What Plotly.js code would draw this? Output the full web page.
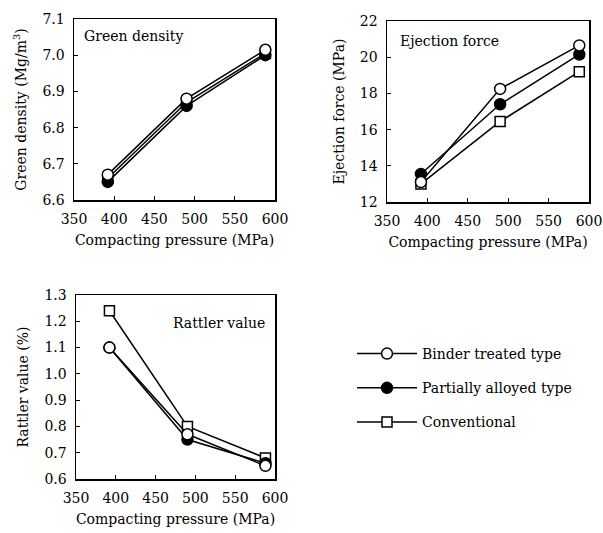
<!DOCTYPE html>
<html><head><meta charset="utf-8">
<script src="https://cdn.plot.ly/plotly-3.0.1.min.js"></script>
<style>html,body{margin:0;padding:0;background:#fff}#chart{width:603px;height:533px}</style>
</head><body><div id="chart"></div>
<script>
const pressure = [392, 490, 588];
const seriesNames = ["Binder treated type", "Partially alloyed type", "Conventional"];
const greenBinder = [6.67, 6.88, 7.015];
const greenPartial = [6.65, 6.86, 7.00];
const greenConv = [6.66, 6.87, 7.005];
const ejectBinder = [13.1, 18.25, 20.65];
const ejectPartial = [13.55, 17.4, 20.15];
const ejectConv = [13.0, 16.45, 19.2];
const rattBinder = [1.10, 0.77, 0.65];
const rattPartial = [1.10, 0.75, 0.66];
const rattConv = [1.24, 0.80, 0.68];

const FONT = "DejaVu Serif, serif";
const FS = 14;
const styles = {
  binder: {symbol: "circle", color: "#fff", rank: 1},
  partial: {symbol: "circle", color: "#000", rank: 2},
  conv: {symbol: "square", color: "#fff", rank: 3}
};
function tr(y, key, name, xa, ya, show) {
  return {x: pressure, y: y, xaxis: xa, yaxis: ya, name: name, showlegend: show, legendgroup: key,
    legendrank: styles[key].rank,
    mode: "lines+markers", line: {color: "#000", width: 1.5},
    marker: {symbol: styles[key].symbol, size: key === "conv" ? 10 : 11, color: styles[key].color,
             line: {color: "#000", width: 1.5}}};
}
const data = [];
[["x","y",greenConv,greenPartial,greenBinder,true],["x2","y2",ejectConv,ejectPartial,ejectBinder,false],["x3","y3",rattConv,rattPartial,rattBinder,false]]
.forEach(p => {
  data.push(tr(p[2], "conv", seriesNames[2], p[0], p[1], p[5]));
  data.push(tr(p[3], "partial", seriesNames[1], p[0], p[1], p[5]));
  data.push(tr(p[4], "binder", seriesNames[0], p[0], p[1], p[5]));
});

const W = 603, H = 533;
function dx(a, b) { return [a / W, b / W]; }
function dy(top, bot) { return [1 - bot / H, 1 - top / H]; }
const tickfont = {family: FONT, size: FS, color: "#000"};
function xax(dom, anchor) {
  return {domain: dom, anchor: anchor, range: [350, 600], tickvals: [350, 400, 450, 500, 550, 600],
    ticks: "inside", ticklen: 4, tickcolor: "#000", showline: true, mirror: true, linecolor: "#000", linewidth: 1.5,
    showgrid: false, zeroline: false, tickfont: tickfont, ticklabelstandoff: 6,
    title: {text: "Compacting pressure (MPa)", font: {family: FONT, size: FS, color: "#000"}, standoff: 9}};
}
function yax(dom, anchor, range, dtick, fmt, title) {
  return {domain: dom, anchor: anchor, range: range, dtick: dtick, tick0: range[0], tickformat: fmt,
    ticks: "inside", ticklen: 4, tickcolor: "#000", showline: true, mirror: true, linecolor: "#000", linewidth: 1.5,
    showgrid: false, zeroline: false, tickfont: tickfont, ticklabelstandoff: 5,
    title: {text: title, font: {family: FONT, size: FS, color: "#000"}, standoff: 12}};
}
const layout = {
  width: W, height: H, margin: {l: 0, r: 0, t: 0, b: 0},
  paper_bgcolor: "#fff", plot_bgcolor: "#fff", font: {family: FONT, color: "#000"},
  xaxis: xax(dx(74, 275), "y"),
  yaxis: yax(dy(19, 200), "x", [6.6, 7.1], 0.1, ".1f", "Green density (Mg/m<sup>3</sup>)"),
  xaxis2: xax(dx(387, 589), "y2"),
  yaxis2: yax(dy(21, 202), "x2", [12, 22], 2, "d", "Ejection force (MPa)"),
  xaxis3: xax(dx(76, 275), "y3"),
  yaxis3: yax(dy(295, 479), "x3", [0.6, 1.3], 0.1, ".1f", "Rattler value (%)"),
  legend: {x: 352 / W, y: 1 - 338 / H, xanchor: "left", yanchor: "top", traceorder: "grouped",
    font: {family: FONT, size: FS, color: "#000"}, itemwidth: 60, tracegroupgap: 13, bgcolor: "rgba(0,0,0,0)"},
  annotations: [
    {text: "Green density", xref: "paper", yref: "paper", x: 82 / W, y: 1 - 36 / H, xanchor: "left", yanchor: "middle", showarrow: false, font: {family: FONT, size: FS, color: "#000"}},
    {text: "Ejection force", xref: "paper", yref: "paper", x: 398 / W, y: 1 - 41 / H, xanchor: "left", yanchor: "middle", showarrow: false, font: {family: FONT, size: FS, color: "#000"}},
    {text: "Rattler value", xref: "paper", yref: "paper", x: 267 / W, y: 1 - 323 / H, xanchor: "right", yanchor: "middle", showarrow: false, font: {family: FONT, size: FS, color: "#000"}}
  ]
};
Plotly.newPlot("chart", data, layout, {displayModeBar: false, staticPlot: true});
</script></body></html>
